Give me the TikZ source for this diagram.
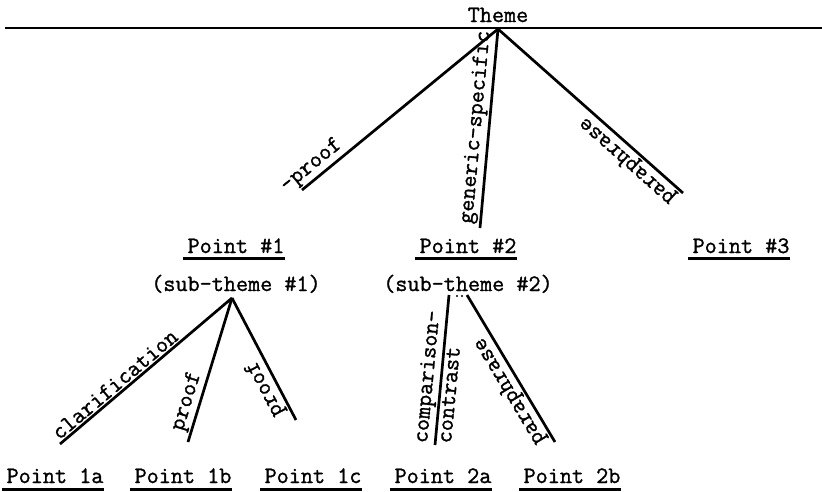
\documentclass[tikz,border=0pt]{standalone}
\usepackage{fontspec}
\setmonofont{Latin Modern Mono}[FakeBold=1.2]
\begin{document}
\begin{tikzpicture}[x=1pt,y=-1pt,line width=2.7pt,
  every node/.style={font=\fontsize{23.5}{28}\selectfont\ttfamily, inner sep=1pt},
  lbl/.style={sloped, allow upside down, inner sep=1.5pt},
  uline/.style={line width=3pt}]
\useasboundingbox (0,0) rectangle (822,491);
% 主题及横线
\node[anchor=base] (theme) at (498,22) {Theme};
\draw (5,28) -- (822,28);
\coordinate (top) at (498,29);

% 第一层
\node[anchor=base] (p1) at (236,253) {Point \#1};
\node[anchor=base] (p2) at (468,253) {Point \#2};
\node[anchor=base] (p3) at (741,253) {Point \#3};
\foreach \n in {p1,p2,p3}
  \draw[uline] ([xshift=-2pt,yshift=-5pt]\n.base west) -- ([xshift=-2pt,yshift=-5pt]\n.base east);

\coordinate (e1) at (302,190);
\coordinate (e2) at (480,228);
\coordinate (e3) at (683,193);
\draw (e1) -- (top) node[lbl, pos=0.09, above] (l1) {-proof};
\draw (e2) -- (top) node[lbl, pos=0.5, above] (l2) {generic-specific};
\draw (e3) -- (top) node[lbl, pos=0.255, above] (l3) {paraphrase};

% 子主题
\node[anchor=base] (s1) at (236,291) {(sub-theme \#1)};
\node[anchor=base] (s2) at (468,291) {(sub-theme \#2)};
\coordinate (s1a) at (232,298);
\coordinate (s2a) at (449,295);
\coordinate (s2b) at (467,295);
\fill (457,296) circle (1.2pt);
\fill (462,296) circle (1.2pt);

% 第二层
\node[anchor=base] (q1a) at (55,483) {Point 1a};
\node[anchor=base] (q1b) at (183,483) {Point 1b};
\node[anchor=base] (q1c) at (313,483) {Point 1c};
\node[anchor=base] (q2a) at (443,483) {Point 2a};
\node[anchor=base] (q2b) at (572,483) {Point 2b};
\foreach \n in {q1a,q1b,q1c,q2a,q2b}
  \draw[uline] ([xshift=-2pt,yshift=-6pt]\n.base west) -- ([xshift=-2pt,yshift=-6pt]\n.base east);

\coordinate (f1) at (60,444);
\coordinate (f2) at (188,442);
\coordinate (f3) at (296,420);
\coordinate (f4) at (435,445);
\coordinate (f5) at (555,442);
\draw (f1) -- (s1a) node[lbl, pos=0.356, above] (m1) {clarification};
\draw (f2) -- (s1a) node[lbl, pos=0.255, above] (m2) {proof};
\draw (f3) -- (s1a) node[lbl, pos=0.305, above] (m3) {proof};
\draw (f4) -- (s2a) node[lbl, pos=0.447, above] (m4) {comparison-}
                    node[lbl, pos=0.34, below] (m5) {contrast};
\draw (f5) -- (s2b) node[lbl, pos=0.39, above] (m6) {paraphrase};
\end{tikzpicture}
\end{document}
